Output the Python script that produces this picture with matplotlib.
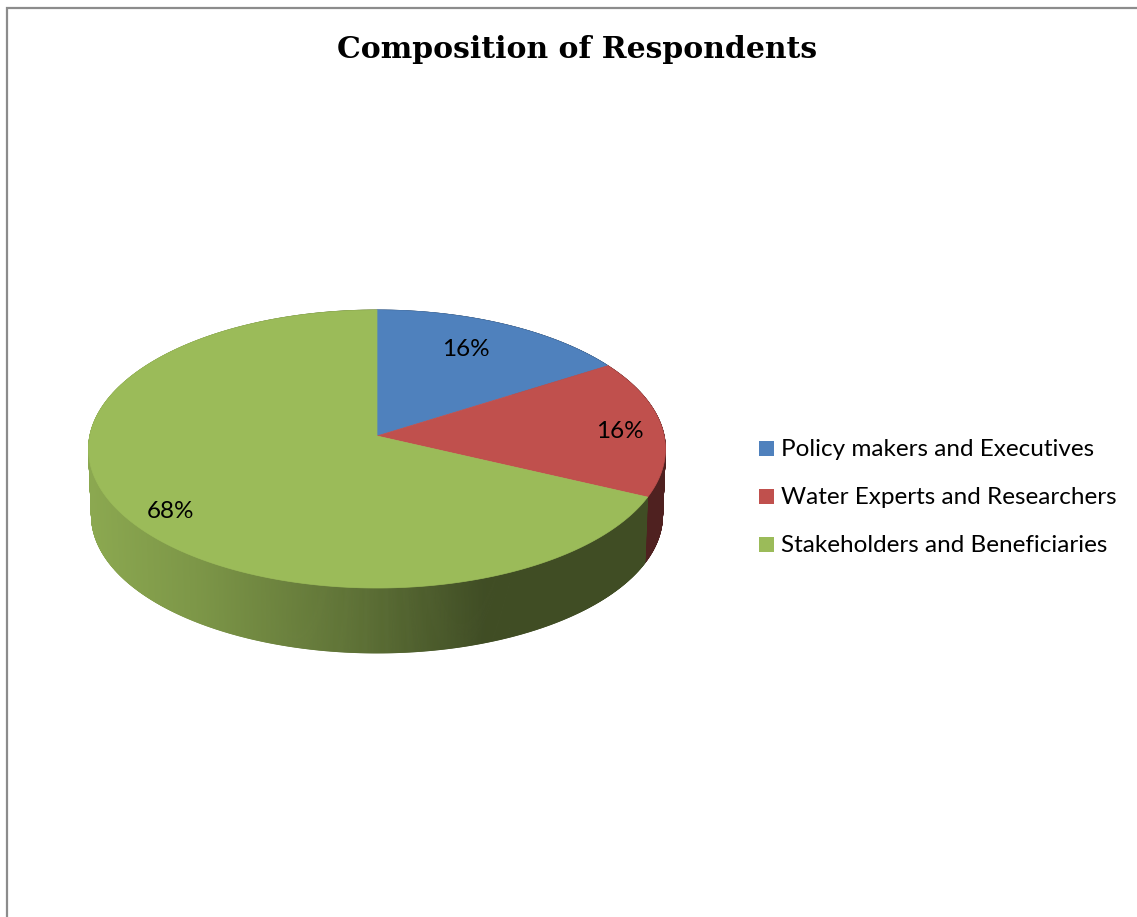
import numpy as np
import matplotlib
matplotlib.use("Agg")
import matplotlib.pyplot as plt
from matplotlib.collections import PolyCollection
from matplotlib.patches import Polygon, Rectangle

title = "Composition of Respondents"
categories = ["Policy makers and Executives", "Water Experts and Researchers", "Stakeholders and Beneficiaries"]
values = [16, 16, 68]
colors = ["#4F81BD", "#C0504D", "#9BBB59"]

# pie geometry, in pixels
apex_x, apex_y = 377, 436
radius_x, radius_y = 287.2, 137.8
tilt = 0.0935
depth = 66.5
base_scale = 0.99

label_pos = [(466, 350), (620, 432), (170, 511)]
legend_rows = [450, 498, 546]
legend_boxes = [448.5, 496.5, 544.5]


def project(theta, r=1.0, drop=0.0, scale=1.0):
    # theta runs clockwise from 12 o'clock, far side of the disc is foreshortened
    x = r * np.sin(theta)
    y = r * np.cos(theta)
    w = 1 + tilt * y
    return apex_x + scale * radius_x * x / w, apex_y + drop - scale * radius_y * y / w


def side_shade(x):
    return np.interp(x, [88, 200, 360, 485, 665], [0.90, 0.80, 0.60, 0.41, 0.41])


fig = plt.figure(figsize=(11.37, 9.17), dpi=100)
ax = fig.add_axes([0, 0, 1, 1])
ax.set_xlim(0, 1137)
ax.set_ylim(917, 0)
ax.axis("off")

# chart frame, runs off the right and bottom of the figure
ax.plot([7, 7, 1137], [917, 8, 8], color="#8C8C8C", lw=1.6, solid_joinstyle="miter")

ax.text(577, 50, title, family="DejaVu Serif", weight="bold", fontsize=21.5,
        ha="center", va="center", color="black")

edges = np.cumsum([0] + values) / sum(values) * 2 * np.pi

# outer wall first, split in thin strips for the gradient
for start, end, color in zip(edges[:-1], edges[1:], colors):
    th = np.linspace(start, end, max(int((end - start) * 300), 2))
    x_top, y_top = project(th)
    x_bot, y_bot = project(th, drop=depth, scale=base_scale)
    quads = []
    quad_colors = []
    rgb = np.array(matplotlib.colors.to_rgb(color))
    for i in range(len(th) - 1):
        quads.append([(x_top[i], y_top[i]), (x_top[i + 1], y_top[i + 1]),
                      (x_bot[i + 1], y_bot[i + 1]), (x_bot[i], y_bot[i])])
        quad_colors.append(rgb * side_shade((x_top[i] + x_top[i + 1]) / 2))
    ax.add_collection(PolyCollection(quads, facecolors=quad_colors, edgecolors=quad_colors, linewidths=0.6))

# top of the disc
for start, end, color in zip(edges[:-1], edges[1:], colors):
    th = np.linspace(start, end, 300)
    x_arc, y_arc = project(th)
    pts = np.column_stack([np.r_[apex_x, x_arc], np.r_[apex_y, y_arc]])
    ax.add_patch(Polygon(pts, closed=True, facecolor=color, edgecolor=color, linewidth=0.5))

for val, (lx, ly) in zip(values, label_pos):
    ax.text(lx, ly, f"{val}%", family="Lato", fontsize=17.5, ha="center", va="center", color="black")

# legend
for name, color, row, box in zip(categories, colors, legend_rows, legend_boxes):
    ax.add_patch(Rectangle((759, box - 7.5), 15, 15, facecolor=color, edgecolor="none"))
    ax.text(781, row, name, family="Lato", fontsize=17.5, ha="left", va="center", color="black")

fig.savefig("out.png", dpi=100, facecolor="white")
